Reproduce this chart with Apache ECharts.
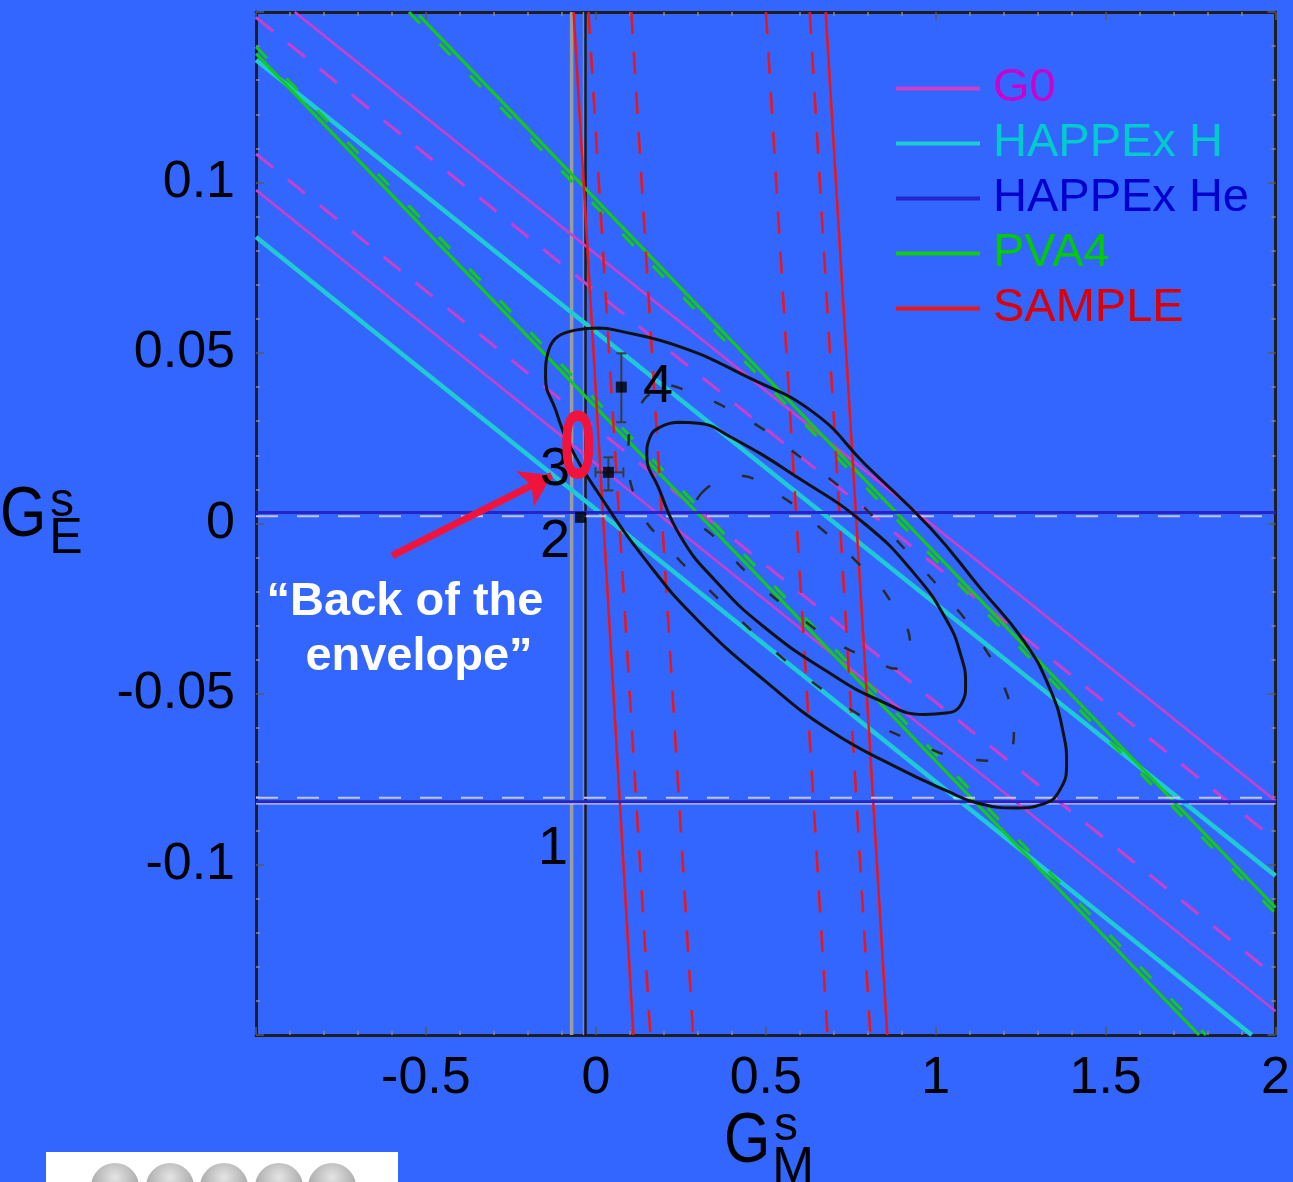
<!DOCTYPE html>
<html>
<head>
<meta charset="utf-8">
<script src="https://cdn.jsdelivr.net/npm/echarts/dist/echarts.min.js"></script>
<style>
  html, body { margin: 0; padding: 0; background: #3366ff; }
  #chart { width: 1293px; height: 1182px; }
</style>
</head>
<body>
<div id="chart"></div>
<script>
// --- data (GM = x, GE = y) ---
const g0Solid = [[[-0.886, 0.15], [2, -0.0813]], [[-1, 0.0978], [2, -0.143]]];
const g0Dashed = [[[-1, 0.1484], [2, -0.0928]], [[-1, 0.1084], [2, -0.1328]]];
const happexHLines = [[[-1, 0.1359], [2, -0.1033]], [[-1, 0.0840], [1.93, -0.15]]];
const happexHeSolid = [0.0032, -0.0816];
const happexHeDashed = [0.0021, -0.0804];
const pva4Solid = [[[-0.52, 0.149], [2, -0.1126]], [[-1, 0.1378], [1.775, -0.15]]];
const pva4Dashed = [[[-0.55, 0.15], [2, -0.1144]], [[-1, 0.1398], [1.795, -0.15]]];
const sampleSolid = [[[-0.0654, 0.15], [0.1106, -0.15]], [[0.6763, 0.15], [0.8575, -0.15]]];
const sampleDashed = [
    [[-0.0215, 0.15], [0.1604, -0.15]],
    [[0.1045, 0.15], [0.2864, -0.15]],
    [[0.5005, 0.15], [0.6817, -0.15]],
    [[0.6294, 0.15], [0.8077, -0.15]]
];
const greyVerticals = [-0.0713, -0.0303];
const outerEllipse = [
    [0.008, 0.0573], [0.058, 0.0567], [0.251, 0.0517], [0.447, 0.0429], [0.644, 0.0323], [0.790, 0.0176],
    [0.983, -0.0012], [1.130, -0.0188], [1.259, -0.0344], [1.335, -0.0482], [1.376, -0.0617], [1.385, -0.0705],
    [1.364, -0.0784], [1.317, -0.0822], [1.238, -0.0834], [1.130, -0.0822], [1.033, -0.0784], [0.887, -0.0716],
    [0.690, -0.0608], [0.497, -0.0461], [0.301, -0.0285], [0.154, -0.0117], [0.008, 0.0088], [-0.080, 0.0235],
    [-0.118, 0.0332], [-0.148, 0.0429], [-0.139, 0.0508], [-0.060, 0.0567], [0.008, 0.0573]
];
const innerEllipse = [
    [0.242, 0.0297], [0.301, 0.0294], [0.398, 0.0253], [0.594, 0.0135], [0.790, 0.0], [0.937, -0.0147],
    [1.033, -0.0285], [1.075, -0.0390], [1.088, -0.0470], [1.075, -0.0530], [1.030, -0.0556], [0.966, -0.0560],
    [0.837, -0.0520], [0.690, -0.0440], [0.497, -0.0305], [0.351, -0.0167], [0.251, -0.0041], [0.184, 0.0106],
    [0.150, 0.0200], [0.158, 0.0250], [0.190, 0.0283], [0.242, 0.0297]
];
const dashedEllipseBig = [
    [0.222, 0.0405], [0.359, 0.0352], [0.497, 0.0273], [0.614, 0.0185], [0.731, 0.0097], [0.837, 0.0],
    [0.945, -0.0115], [1.042, -0.0226], [1.130, -0.0344], [1.203, -0.0482], [1.230, -0.0622], [1.180, -0.0696],
    [1.092, -0.0690], [0.916, -0.0631], [0.770, -0.0558], [0.644, -0.0470], [0.535, -0.0382], [0.427, -0.0285],
    [0.321, -0.0182], [0.213, -0.0070], [0.125, 0.0053], [0.096, 0.0214], [0.140, 0.0361], [0.222, 0.0405]
];
const dashedEllipseSmall = [
    [0.310, 0.0088], [0.409, 0.0141], [0.541, 0.0082], [0.652, -0.0006], [0.770, -0.0115], [0.866, -0.0226],
    [0.925, -0.0364], [0.887, -0.0426], [0.808, -0.0396], [0.711, -0.0352], [0.594, -0.0270], [0.468, -0.0167],
    [0.359, -0.0050], [0.286, 0.0038], [0.310, 0.0088]
];
// numbered points: GM, GE, GE error low / high
const pointGM = [-0.045, 0.037, 0.075];
const pointGE = [0.0018, 0.015, 0.040];
const pointGElo = [0.0018, 0.0097, 0.0297];
const pointGEhi = [0.0018, 0.0194, 0.0499];
const point3GMerr = [-0.001, 0.081];
const arrowFrom = [-0.599, -0.0094];
const arrowTo = [-0.130, 0.0141];

const FONT = '"Liberation Sans", Arial, Helvetica, sans-serif';
const C = {
    g0: '#cc3fcc', g0Text: '#cc00cc',
    hH: '#1fcad2', hHText: '#00cccc',
    hHe: '#2424c8', hHeText: '#0000cc',
    pva: '#12cc12', pvaText: '#00cc00',
    sam: '#ec1616', samText: '#dd0000',
    annot: '#f0143c'
};

function line(name, data, color, width, type, z) {
    return {
        name: name, type: 'line', data: data, symbol: 'none', showSymbol: false,
        lineStyle: { color: color, width: width, type: type || 'solid' },
        itemStyle: { color: color }, z: z || 2, silent: true
    };
}

const series = [];
g0Solid.forEach(p => series.push(line('G0', p, C.g0, 2.5, 'solid', 3)));
g0Dashed.forEach(p => series.push(line('G0', p, C.g0, 3, [22, 19], 3)));
happexHLines.forEach(p => series.push(line('HAPPEx H', p, C.hH, 4.5, 'solid', 3)));
happexHeSolid.forEach(v => series.push(line('HAPPEx He', [[-1, v], [2, v]], C.hHe, 3, 'solid', 4)));
happexHeDashed.forEach(v => series.push(line('HAPPEx He', [[-1, v], [2, v]], '#c4c4f4', 2, [22, 19], 4)));
pva4Solid.forEach(p => series.push(line('PVA4', p, C.pva, 3, 'solid', 3)));
pva4Dashed.forEach(p => series.push(line('PVA4', p, C.pva, 3, [16, 28], 3)));
sampleSolid.forEach(p => series.push(line('SAMPLE', p, C.sam, 2.5, 'solid', 3)));
sampleDashed.forEach(p => series.push(line('SAMPLE', p, C.sam, 2.5, [22, 18], 3)));

series.push(line('grey1', [[greyVerticals[0], -0.15], [greyVerticals[0], 0.15]], '#9c9c9c', 3.5, 'solid', 2));
series.push(line('grey2', [[greyVerticals[1] - 0.006, -0.15], [greyVerticals[1] - 0.006, 0.15]], '#8c8c8c', 1.5, 'solid', 2));
series.push(line('grey3', [[greyVerticals[1], -0.15], [greyVerticals[1], 0.15]], '#1c1c1c', 2.5, 'solid', 2));
series.push(line('greyH', [[-1, -0.0822], [2, -0.0822]], '#cfd0ee', 1.5, 'solid', 2));

[outerEllipse, innerEllipse].forEach(p => {
    const s = line('fit', p, '#111', 3, 'solid', 5);
    s.smooth = 0.5;
    series.push(s);
});
[dashedEllipseBig, dashedEllipseSmall].forEach(p => {
    const s = line('fitDashed', p, '#2a2a2a', 2.5, [12, 34], 5);
    s.smooth = 0.5;
    series.push(s);
});

// error bars
pointGM.forEach((gm, i) => {
    if (pointGEhi[i] === pointGElo[i]) return;
    series.push({
        name: 'err', type: 'line', data: [[gm, pointGElo[i]], [gm, pointGEhi[i]]],
        symbol: 'rect', symbolSize: [10, 2], showSymbol: true,
        lineStyle: { color: '#3a3a3a', width: 2 }, itemStyle: { color: '#3a3a3a' }, z: 6, silent: true
    });
});
series.push({
    name: 'err', type: 'line', data: [[point3GMerr[0], pointGE[1]], [point3GMerr[1], pointGE[1]]],
    symbol: 'rect', symbolSize: [2, 10], showSymbol: true,
    lineStyle: { color: '#3a3a3a', width: 2 }, itemStyle: { color: '#3a3a3a' }, z: 6, silent: true
});
series.push({
    name: 'points', type: 'scatter', data: pointGM.map((gm, i) => [gm, pointGE[i]]),
    symbol: 'rect', symbolSize: 11, itemStyle: { color: '#000' }, z: 7, silent: true
});
series.push({
    name: 'arrow', type: 'lines', coordinateSystem: 'cartesian2d',
    data: [{ coords: [arrowFrom, arrowTo] }],
    symbol: ['none', 'arrow'], symbolSize: 30,
    lineStyle: { color: C.annot, width: 7, opacity: 1 }, z: 8, silent: true
});

const chart = echarts.init(document.getElementById('chart'));

function txt(text, x, y, font, fill, extra, align) {
    return Object.assign({
        type: 'text', x: x, y: y, z: 100,
        style: {
            text: text, font: font, fill: fill,
            align: align || 'center', verticalAlign: 'middle',
            textAlign: align || 'center', textVerticalAlign: 'middle'
        }
    }, extra || {});
}

const graphic = [
    txt('G', 0, 517, '70px ' + FONT, '#000', { scaleX: 0.85 }, 'left'),
    txt('s', 62, 503, '48px ' + FONT, '#000'),
    txt('E', 66, 539, '50px ' + FONT, '#000'),
    txt('G', 724, 1143, '70px ' + FONT, '#000', { scaleX: 0.85 }, 'left'),
    txt('s', 786, 1127, '48px ' + FONT, '#000'),
    txt('M', 793, 1168, '50px ' + FONT, '#000'),
    txt('4', 658, 387, '54px ' + FONT, '#000'),
    txt('3', 555, 470, '54px ' + FONT, '#000'),
    txt('2', 555, 542, '54px ' + FONT, '#000'),
    txt('1', 553, 849, '54px ' + FONT, '#000'),
    txt('0', 578, 452, 'bold 96px ' + FONT, C.annot, { scaleX: 0.68 }),
    txt('\u201cBack of the', 405, 602, 'bold 47px ' + FONT, '#fff'),
    txt('envelope\u201d', 419, 657, 'bold 47px ' + FONT, '#fff'),
    { type: 'rect', z: 100, shape: { x: 46, y: 1152, width: 352, height: 40 }, style: { fill: '#fff' } }
];
[115, 170, 224, 279, 332].forEach(cx => {
    graphic.push({
        type: 'circle', z: 101, shape: { cx: cx, cy: 1187, r: 24 },
        style: {
            fill: new echarts.graphic.RadialGradient(0.5, 0.3, 0.8, [
                { offset: 0, color: '#e4e4e4' }, { offset: 1, color: '#8a8a8a' }
            ])
        }
    });
});

function fmt(v) {
    const r = Math.round(v * 1000) / 1000;
    return r === 0 ? '0' : String(r);
}

const axisCommon = {
    type: 'value',
    axisLine: { show: true, onZero: false, lineStyle: { color: '#1e1e1e', width: 3 } },
    axisTick: { show: true, inside: true, length: 8, lineStyle: { color: '#5a5a5a', width: 1.5 } },
    minorTick: { show: true, splitNumber: 5, length: 4, lineStyle: { color: '#8a8a8a', width: 1.5 } },
    splitLine: { show: false }
};

chart.setOption({
    animation: false,
    backgroundColor: '#3366ff',
    grid: { left: 256, top: 12, width: 1024, height: 1023 },
    legend: {
        orient: 'vertical', left: 891, top: 60,
        itemWidth: 84, itemHeight: 4, itemGap: 8, icon: 'rect',
        textStyle: { fontSize: 47, lineHeight: 46, fontFamily: FONT, padding: [0, 0, 0, 8] },
        selectedMode: false,
        data: [
            { name: 'G0', textStyle: { color: C.g0Text } },
            { name: 'HAPPEx H', textStyle: { color: C.hHText } },
            { name: 'HAPPEx He', textStyle: { color: C.hHeText } },
            { name: 'PVA4', textStyle: { color: C.pvaText } },
            { name: 'SAMPLE', textStyle: { color: C.samText } }
        ]
    },
    xAxis: [
        Object.assign({}, axisCommon, {
            position: 'bottom', min: -1, max: 2, interval: 0.5,
            axisLabel: {
                color: '#000', fontSize: 52, fontFamily: FONT, margin: 18,
                formatter: v => (v < -0.9 ? '' : fmt(v))
            }
        }),
        Object.assign({}, axisCommon, {
            position: 'top', min: -1, max: 2, interval: 0.5, axisLabel: { show: false }
        })
    ],
    yAxis: [
        Object.assign({}, axisCommon, {
            position: 'left', min: -0.15, max: 0.15, interval: 0.05,
            axisLabel: {
                color: '#000', fontSize: 52, fontFamily: FONT, margin: 21,
                formatter: v => (Math.abs(v) > 0.12 ? '' : fmt(v))
            }
        }),
        Object.assign({}, axisCommon, {
            position: 'right', min: -0.15, max: 0.15, interval: 0.05, axisLabel: { show: false }
        })
    ],
    series: series,
    graphic: graphic
});
</script>
</body>
</html>
